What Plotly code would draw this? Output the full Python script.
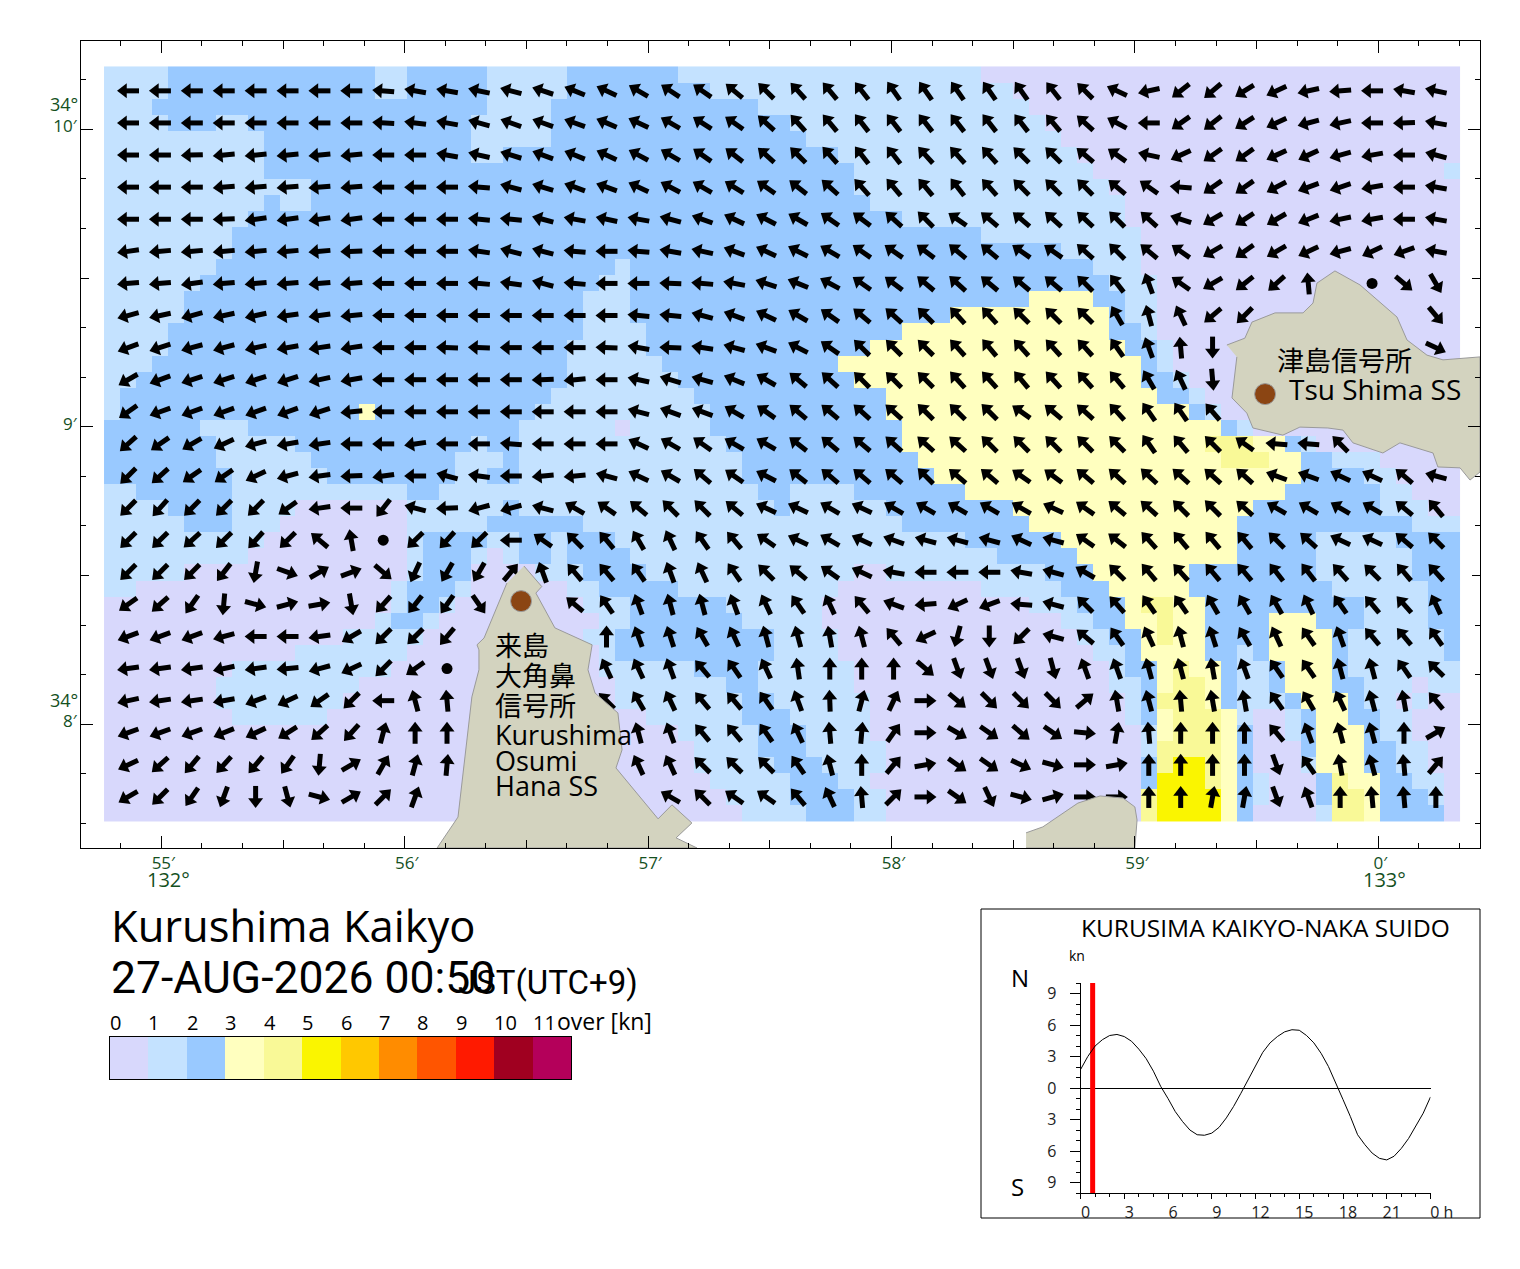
import plotly.graph_objects as go
import math

W, H = 1520, 1269
FONT = "Noto Sans CJK JP"
LATIN = "Open Sans"
GREEN = "#14501e"

# current speed class per grid cell, one string per row, "class>end column"
speed_rows = [
 "1>4 2>17 1>19 2>24 1>29 2>36 1>55 0>85",
 "1>4 2>17 1>19 2>24 1>29 2>38 1>57 0>85",
 "1>3 2>24 1>28 2>41 1>58 0>85",
 "1>4 2>7 1>9 2>23 1>28 2>43 1>59 0>85",
 "1>10 2>23 1>28 2>44 1>60 0>85",
 "1>10 2>23 1>25 2>46 1>61 0>85",
 "1>10 2>47 1>62 0>84 1>85",
 "1>13 2>47 1>63 0>85",
 "1>10 2>11 1>13 2>48 1>64 0>85",
 "1>9 2>50 1>64 0>85",
 "1>8 2>55 1>65 0>85",
 "1>8 2>60 1>65 0>85",
 "1>7 2>32 1>33 2>62 1>65 0>85",
 "1>6 2>31 1>33 2>63 1>66 0>85",
 "1>5 2>30 1>33 2>58 3>62 2>64 1>66 0>85",
 "1>5 2>30 1>33 2>53 3>63 2>64 1>66 0>85",
 "1>4 2>30 1>34 2>50 3>63 2>65 1>66 0>85",
 "1>4 2>29 1>34 2>48 3>64 2>66 1>67 0>85",
 "1>3 2>29 1>35 2>46 3>65 2>66 1>67 0>85",
 "1>2 2>29 1>36 2>47 3>65 2>67 1>68 0>85",
 "1>1 2>28 1>37 2>49 3>66 2>68 1>69 0>85",
 "1>1 2>16 3>17 2>27 1>38 2>49 3>68 2>69 1>70 0>85",
 "2>6 1>9 2>26 1>32 0>33 1>38 2>50 3>70 2>71 1>72 0>85",
 "2>7 1>12 2>23 1>24 2>26 1>39 2>50 3>69 4>72 3>74 2>75 1>76 0>85",
 "2>7 1>13 2>22 1>25 2>26 1>40 2>51 3>70 4>73 3>75 2>77 1>80 0>85",
 "2>8 1>14 2>22 1>24 2>26 1>40 2>52 3>75 2>79 1>81 0>85",
 "1>2 2>8 1>19 2>21 1>41 2>43 1>47 2>54 3>74 2>80 1>82 0>85",
 "1>4 2>8 1>12 0>19 1>25 2>26 1>42 2>43 1>49 2>57 3>72 2>80 1>83 0>85",
 "1>5 2>8 1>11 0>19 1>24 2>30 1>50 2>58 3>71 2>82 1>85",
 "1>10 0>19 1>20 2>24 1>26 2>28 1>29 2>32 1>54 2>60 3>71 2>76 1>81 2>85",
 "1>9 0>19 1>20 2>23 1>24 0>25 1>26 2>28 1>29 2>33 1>56 2>61 3>71 2>76 1>82 2>85",
 "1>5 0>19 1>20 2>23 0>27 1>30 2>34 1>47 0>49 1>59 2>62 3>68 2>76 1>82 2>85",
 "1>2 0>18 1>19 2>22 1>23 0>29 1>31 2>36 1>46 0>55 1>60 2>63 3>68 2>77 1>83 2>85",
 "0>18 1>19 2>21 1>22 0>30 1>33 2>39 1>45 0>58 1>61 2>64 3>65 4>67 3>69 2>79 1>83 2>85",
 "0>17 1>18 2>20 1>21 0>31 1>33 2>40 1>45 0>60 1>62 2>64 3>66 4>67 3>69 2>73 3>76 2>79 1>83 2>85",
 "0>15 1>20 0>30 1>32 2>42 1>46 0>61 1>63 2>65 3>66 4>67 3>69 2>73 3>77 2>78 1>84 2>85",
 "0>12 1>19 0>31 1>32 2>42 1>46 0>62 1>64 2>65 3>69 2>71 1>72 2>73 3>77 2>78 1>84 2>85",
 "0>8 1>18 0>31 1>37 2>41 1>47 0>63 1>64 2>66 3>67 4>68 3>70 2>71 1>73 2>74 3>77 2>78 1>85",
 "0>7 1>16 0>32 1>39 2>41 1>47 0>63 1>65 2>66 3>67 4>69 3>70 2>71 1>73 2>74 3>77 2>79 1>82 0>83 1>85",
 "0>7 1>15 0>32 1>40 2>42 1>48 0>64 1>65 2>66 4>69 3>70 2>71 1>74 2>75 3>78 2>79 1>81 0>82 1>83 0>85",
 "0>8 1>14 0>34 1>40 2>43 1>48 0>64 1>65 2>66 3>67 4>70 3>71 1>72 0>74 1>75 2>76 3>78 2>80 1>82 0>85",
 "0>36 1>41 2>44 1>48 0>65 1>66 3>67 4>70 3>71 2>72 0>74 1>75 2>76 3>79 2>80 1>82 0>85",
 "0>37 1>41 2>44 1>49 0>65 1>66 4>70 3>71 2>72 0>75 2>76 3>79 2>81 1>83 0>85",
 "0>37 1>42 2>45 1>49 0>65 2>66 4>67 5>69 4>70 3>71 2>72 0>75 1>76 3>79 2>81 1>83 0>85",
 "0>38 1>43 2>46 1>48 0>65 2>66 5>69 4>70 3>71 2>72 1>73 0>76 2>77 4>78 3>80 2>82 1>84 0>85",
 "0>39 1>43 2>47 1>49 0>65 4>66 5>70 3>71 2>72 1>73 0>76 2>77 4>79 3>80 2>83 1>84 0>85",
 "0>40 1>44 2>47 1>49 0>65 4>66 5>70 3>71 2>72 0>76 1>77 4>79 3>80 2>84 0>85",
]

# flow direction in degrees clockwise from north, C = calm (dot), N = no arrow
C, N = -1, None
arrow_dirs = [
 [270,270,270,270,270,270,270,270,275,280,280,282,285,288,292,295,300,303,305,310,315,318,320,322,325,325,325,325,325,322,315,295,258,232,230,238,245,258,265,270,280,282],
 [270,270,270,270,270,270,270,270,273,277,280,285,290,290,290,293,295,300,303,305,312,318,320,322,322,322,322,322,322,320,312,298,270,235,232,238,245,255,258,270,268,280],
 [270,270,268,265,265,265,265,265,270,270,280,283,287,290,292,295,298,300,305,308,312,315,318,322,322,318,318,318,315,315,310,305,282,245,235,235,245,245,255,260,270,285],
 [270,270,270,265,265,265,265,265,270,270,270,275,285,287,290,290,295,298,300,302,305,308,312,318,320,320,322,318,315,315,315,310,305,275,235,235,242,250,252,260,270,280],
 [270,270,270,268,262,262,262,262,270,270,270,275,275,285,280,282,280,285,290,295,297,300,305,307,312,315,305,310,310,312,313,315,312,288,240,237,240,248,258,260,270,280],
 [262,265,265,265,265,265,265,268,270,270,270,278,285,285,275,270,275,280,282,290,295,297,300,305,305,307,310,310,305,305,312,315,310,305,240,235,240,245,255,245,250,280],
 [265,265,262,265,265,265,265,265,270,270,270,275,278,285,275,270,270,272,275,280,288,292,298,305,307,310,312,310,310,310,315,322,340,305,240,232,228,355,N,C,130,150],
 [255,258,255,258,258,262,262,265,270,270,270,270,270,270,270,270,275,275,285,290,295,300,305,310,312,315,318,318,315,315,315,330,345,335,230,225,N,N,N,N,N,140],
 [250,252,255,255,258,260,262,262,270,270,272,272,270,270,270,272,280,272,278,285,290,297,305,315,315,315,318,320,318,318,318,325,340,355,180,N,N,N,N,N,N,115],
 [240,250,252,252,252,252,258,260,270,270,270,270,270,268,265,270,282,287,285,292,300,310,312,315,315,315,318,318,320,318,318,320,330,335,175,N,N,N,N,N,N,N],
 [235,250,250,250,250,250,252,265,270,270,270,270,270,270,270,270,285,290,290,300,305,310,310,312,312,315,315,315,305,310,312,318,325,325,320,N,N,N,N,N,N,N],
 [228,235,240,245,255,260,262,270,270,262,270,270,275,270,270,270,295,300,305,300,300,308,310,310,312,312,312,315,315,315,315,315,325,320,315,305,275,275,315,N,N,N],
 [225,228,235,235,245,255,262,268,262,270,285,278,270,265,265,285,295,300,310,305,297,308,310,310,310,315,310,310,305,307,310,312,313,312,312,312,290,290,295,295,310,285],
 [225,222,225,225,225,235,262,270,218,285,268,255,255,285,300,305,310,315,315,310,295,295,300,295,300,300,300,300,300,295,305,310,312,315,315,312,300,300,300,300,310,320],
 [225,225,228,225,222,225,310,350,C,225,222,225,270,305,315,320,330,335,325,320,305,295,300,295,290,285,285,285,295,285,305,308,318,320,320,320,315,312,295,295,310,315],
 [225,225,225,218,190,110,60,70,130,205,210,210,40,340,320,320,325,340,335,325,315,310,305,295,280,270,270,270,280,285,300,315,320,318,320,320,322,322,318,315,320,318],
 [235,228,215,185,105,75,80,170,222,218,215,145,N,N,310,325,340,345,345,340,335,325,335,320,290,265,245,250,275,285,315,318,325,325,330,330,330,335,325,320,318,335],
 [250,250,250,255,270,270,262,240,225,225,220,N,N,N,N,0,340,342,330,335,345,345,350,345,320,245,195,180,225,285,310,325,335,345,342,330,335,325,340,320,320,325],
 [262,262,262,258,262,265,255,245,225,235,C,N,N,N,N,335,335,340,320,325,335,352,0,0,0,130,160,160,160,165,340,340,345,345,350,340,325,325,345,345,325,315],
 [258,262,262,260,250,245,235,225,270,345,355,N,N,N,N,315,330,335,320,320,325,340,358,15,25,90,130,135,135,135,50,350,345,355,350,350,325,330,335,345,350,320],
 [250,250,250,248,245,238,228,222,15,0,0,N,N,N,N,N,345,340,320,320,325,335,355,5,35,90,120,125,130,125,95,10,355,0,0,0,320,340,345,345,0,60],
 [245,228,220,222,220,215,185,60,30,15,5,N,N,N,N,N,335,335,315,315,315,325,345,0,40,80,125,125,115,105,90,80,0,0,0,0,160,325,350,345,355,40],
 [240,225,215,200,180,165,105,60,45,20,N,N,N,N,N,N,N,300,315,305,305,320,335,355,45,90,125,155,105,75,90,90,0,0,10,10,160,340,0,355,355,0],
]

class_colors = ["#d8d8fc", "#c4e2ff", "#99c9ff", "#ffffbf", "#f9f997", "#faf500",
                "#ffc800", "#ff8c00", "#ff5500", "#ff1a00", "#a00020", "#b4005a"]
class_labels = ["0", "1", "2", "3", "4", "5", "6", "7", "8", "9", "10", "11"]

# coastlines, longitude minutes past 132 deg and latitude minutes past 34 deg
kurushima_lon = [56.490,56.563,56.539,56.609,56.617,56.770,56.753,56.782,56.876,56.893,56.868,57.041,57.098,57.180,57.115,57.201,56.133,56.219,56.276,56.305,56.305,56.297,56.326,56.420]
kurushima_lat = [8.532,8.463,8.441,8.334,8.324,8.267,8.183,8.105,8.038,7.914,7.853,7.682,7.729,7.668,7.618,7.584,7.584,7.688,8.092,8.183,8.250,8.267,8.290,8.475]
tsushima_lon = [59.378,59.452,59.481,59.576,59.691,59.732,59.748,59.822,59.925,60.077,60.118,60.200,60.266,60.418,60.418,60.377,60.336,60.245,60.225,60.089,60.019,59.896,59.855,59.793,59.678,59.608,59.485,59.460,59.399,59.419]
tsushima_lat = [9.275,9.298,9.352,9.383,9.383,9.416,9.483,9.524,9.477,9.369,9.292,9.241,9.225,9.235,8.848,8.821,8.862,8.865,8.912,8.946,8.912,8.946,8.989,8.996,8.999,8.972,8.996,9.046,9.097,9.235]
islet_lon = [58.553,58.622,58.766,58.857,58.951,59.000,59.009,59.000,58.553]
islet_lat = [7.635,7.655,7.735,7.759,7.752,7.722,7.678,7.584,7.584]
station_lon = [59.535, 56.478]
station_lat = [9.110, 8.414]

# tidal current at the reference point, hours and knots (north positive)
tide_hours = [0,0.5,1,1.5,2,2.5,3,3.5,4,4.5,5,5.5,6,6.5,7,7.5,8,8.5,9,9.5,10,10.5,11,11.5,12,12.5,13,13.5,14,14.5,15,15.5,16,16.5,17,17.5,18,18.5,19,19.5,20,20.5,21,21.5,22,22.5,23,23.5,24]
tide_knots = [1.75,3.0,4.0,4.6,5.0,5.1,4.9,4.45,3.7,2.8,1.6,0.15,-1.0,-2.25,-3.2,-4.0,-4.45,-4.5,-4.3,-3.75,-2.85,-1.75,-0.5,0.8,2.2,3.4,4.3,4.9,5.35,5.55,5.5,5.0,4.3,3.3,2.05,0.55,-1.1,-2.7,-4.45,-5.4,-6.2,-6.7,-6.85,-6.5,-5.75,-4.8,-3.65,-2.4,-0.85]
now_hour = 50 / 60

LAND = "#d3d3bf"
COAST = "#9a9a9a"

# map scale, pixels per minute of arc
PX_LON, PX_LAT = 243.4, 297.5
X_RANGE = [54.670, 60.418]
Y_RANGE = [7.584, 10.297]
CELL_X0, CELL_DX = 54.7974, 15.95 / PX_LON
CELL_Y0, CELL_DY = 10.1844, -16.06 / PX_LAT
ARROW_X0, ARROW_DX = 54.8632, 31.9 / PX_LON
ARROW_Y0, ARROW_DY = 10.1294, -32.1 / PX_LAT


def px(x):
    return x / W


def py(y):
    return 1 - y / H


def expand(row):
    cells, start = [], 0
    for run in row.split():
        value, end = run.split(">")
        cells += [int(value)] * (int(end) - start)
        start = int(end)
    return cells


def label(text, x, y, size, font=LATIN, color="black", anchor="left"):
    return dict(text=text, x=px(x), y=py(y), xref="paper", yref="paper", showarrow=False, xshift=-2.5, yshift=2,
                xanchor=anchor, yanchor="middle", font=dict(family=font, size=size, color=color))


fig = go.Figure()

# speed cells
n = len(class_colors)
scale = []
for i, c in enumerate(class_colors):
    scale += [[i / n, c], [(i + 1) / n, c]]
fig.add_trace(go.Heatmap(z=[expand(r) for r in speed_rows], x0=CELL_X0, dx=CELL_DX, y0=CELL_Y0, dy=CELL_DY,
                         zmin=0, zmax=n, colorscale=scale, showscale=False, hoverinfo="skip"))

# arrows: shaft as one broken line, head as a triangle marker
LEN = 22
HEAD = 13
shaft_x, shaft_y, head_x, head_y, head_a, dot_x, dot_y = [], [], [], [], [], [], []
for j, row in enumerate(arrow_dirs):
    for i, a in enumerate(row):
        if a is None:
            continue
        cx = ARROW_X0 + i * ARROW_DX
        cy = ARROW_Y0 + j * ARROW_DY
        if a == C:
            dot_x.append(cx)
            dot_y.append(cy)
            continue
        sx = math.sin(math.radians(a)) / PX_LON
        sy = math.cos(math.radians(a)) / PX_LAT
        shaft_x += [cx - sx * LEN / 2, cx + sx * (LEN / 2 - 9), None]
        shaft_y += [cy - sy * LEN / 2, cy + sy * (LEN / 2 - 9), None]
        head_x.append(cx + sx * (LEN / 2 - HEAD / 2))
        head_y.append(cy + sy * (LEN / 2 - HEAD / 2))
        head_a.append(a)

fig.add_trace(go.Scatter(x=shaft_x, y=shaft_y, mode="lines", line=dict(color="black", width=5), hoverinfo="skip"))
fig.add_trace(go.Scatter(x=head_x, y=head_y, mode="markers", hoverinfo="skip",
                         marker=dict(symbol="triangle-up", size=HEAD, angle=head_a, color="black", line=dict(width=0))))
fig.add_trace(go.Scatter(x=dot_x, y=dot_y, mode="markers", hoverinfo="skip",
                         marker=dict(symbol="circle", size=11, color="black", line=dict(width=0))))

# land goes over the arrows
for lon, lat in [(kurushima_lon, kurushima_lat), (tsushima_lon, tsushima_lat), (islet_lon, islet_lat)]:
    fig.add_trace(go.Scatter(x=lon, y=lat, mode="lines", fill="toself", fillcolor=LAND,
                             line=dict(color=COAST, width=1), hoverinfo="skip"))
fig.add_trace(go.Scatter(x=station_lon, y=station_lat, mode="markers", hoverinfo="skip",
                         marker=dict(size=21, color="#8b4513", line=dict(color=COAST, width=1))))

# empty trace so the 30 second tick axes get drawn
fig.add_trace(go.Scatter(x=[None], y=[None], xaxis="x2", yaxis="y2", mode="markers", hoverinfo="skip"))

# colour key
fig.add_trace(go.Heatmap(z=[list(range(n))], x0=0.5, dx=1, y0=0, xaxis="x3", yaxis="y3", zmin=0, zmax=n,
                         colorscale=scale, showscale=False, hoverinfo="skip"))

# tide curve
fig.add_trace(go.Scatter(x=[now_hour, now_hour], y=[-10, 10], xaxis="x4", yaxis="y4", mode="lines",
                         line=dict(color="#ff0000", width=5), hoverinfo="skip"))
fig.add_trace(go.Scatter(x=tide_hours, y=tide_knots, xaxis="x4", yaxis="y4", mode="lines",
                         line=dict(color="black", width=1), hoverinfo="skip"))

map_dom_x = [px(81), px(1480)]
map_dom_y = [py(848), py(41)]
tick_font = dict(family=LATIN, size=17, color=GREEN)
tide_font = dict(family=LATIN, size=16, color="#222222")

annos = [
    label("34°", 50, 106, 18, color=GREEN),
    label("34°", 50, 702, 18, color=GREEN),
    label("132°", 147, 881, 20, color=GREEN),
    label("133°", 1363, 881, 20, color=GREEN),
    label("津島信号所", 1277, 362, 27, font=FONT),
    label("Tsu Shima SS", 1289, 391, 28),
    label("来島", 495, 646, 27, font=FONT),
    label("大角鼻", 495, 676, 27, font=FONT),
    label("信号所", 495, 706, 27, font=FONT),
    label("Kurushima", 495, 737, 27),
    label("Osumi", 495, 762, 27),
    label("Hana SS", 495, 787, 27),
    label("Kurushima Kaikyo", 111, 928, 43.5),
    label("27-AUG-2026 00:50", 111, 980, 44.5, font="Roboto"),
    label("JST(UTC+9)", 458, 984, 33, font="Roboto"),
    label("over [kn]", 557, 1023, 23),
    label("KURUSIMA KAIKYO-NAKA SUIDO", 1081, 930, 24.5),
    label("kn", 1069, 957, 14),
    label("N", 1011, 979, 24),
    label("S", 1011, 1188, 24),
]
# key numbers start on the left edge of their colour
for k, t in enumerate(class_labels):
    annos.append(dict(text=t, x=k, y=py(1023), xref="x3", yref="paper", showarrow=False, xanchor="left", xshift=-2,
                      yshift=1, yanchor="middle", font=dict(family=LATIN, size=20, color="black")))

fig.update_layout(
    width=W, height=H, autosize=False, margin=dict(l=0, r=0, t=0, b=0), showlegend=False,
    paper_bgcolor="white", plot_bgcolor="white", annotations=annos,
    xaxis=dict(domain=map_dom_x, range=X_RANGE, tickvals=[55, 56, 57, 58, 59, 60],
               ticktext=["55′", "56′", "57′", "58′", "59′", "0′"], ticks="inside", ticklen=12, tickcolor="black",
               showline=True, linecolor="black", linewidth=1, mirror="ticks", showgrid=False, zeroline=False,
               tickfont=tick_font, ticklabelstandoff=0, ticklabelshift=2, anchor="y",
               minor=dict(dtick=1 / 6, tick0=0, ticks="inside", ticklen=5, tickcolor="black", showgrid=False)),
    yaxis=dict(domain=map_dom_y, range=Y_RANGE, tickvals=[8, 9, 10], ticktext=["8′", "9′", "10′"],
               ticks="inside", ticklen=12, tickcolor="black", showline=True, linecolor="black", linewidth=1,
               mirror="ticks", showgrid=False, zeroline=False, tickfont=tick_font, ticklabelstandoff=0,
               ticklabelshift=-3, anchor="x",
               minor=dict(dtick=1 / 6, tick0=0, ticks="inside", ticklen=5, tickcolor="black", showgrid=False)),
    xaxis2=dict(overlaying="x", range=X_RANGE, tick0=0.5, dtick=1, ticks="inside", ticklen=8, tickcolor="black",
                mirror="ticks", showticklabels=False, showgrid=False, zeroline=False, anchor="y2", side="bottom"),
    yaxis2=dict(overlaying="y", range=Y_RANGE, tick0=0.5, dtick=1, ticks="inside", ticklen=8, tickcolor="black",
                mirror="ticks", showticklabels=False, showgrid=False, zeroline=False, anchor="x2", side="left"),
    xaxis3=dict(domain=[px(110), px(571)], range=[0, n], showticklabels=False, ticks="", showline=True,
                linecolor="black", mirror=True, showgrid=False, zeroline=False, anchor="y3"),
    yaxis3=dict(domain=[py(1079), py(1037)], range=[-0.5, 0.5], showticklabels=False, ticks="", showline=True,
                linecolor="black", mirror=True, showgrid=False, zeroline=False, anchor="x3"),
    xaxis4=dict(domain=[px(1080.5), px(1430.5)], range=[0, 24], tickvals=[0, 3, 6, 9, 12, 15, 18, 21, 24],
                ticktext=["0", "3", "6", "9", "12", "15", "18", "21", "\u00a0\u00a0\u00a00\u00a0h"], ticks="outside",
                ticklen=5, tickcolor="black", showline=True, linecolor="black", showgrid=False, zeroline=False,
                tickfont=tide_font, ticklabelshift=5, anchor="y4",
                minor=dict(dtick=1, ticks="outside", ticklen=3, tickcolor="black", showgrid=False)),
    yaxis4=dict(domain=[py(1193), py(983)], range=[-10, 10], tickvals=[-9, -6, -3, 0, 3, 6, 9],
                ticktext=["9", "6", "3", "0", "3", "6", "9"], ticks="outside", ticklen=10, tickcolor="black",
                showline=True, linecolor="black", showgrid=False, zeroline=True, zerolinecolor="black",
                zerolinewidth=1, tickfont=tide_font, ticklabelstandoff=10, anchor="x4",
                minor=dict(dtick=1, ticks="outside", ticklen=4, tickcolor="black", showgrid=False)),
    shapes=[dict(type="rect", xref="paper", yref="paper", x0=px(981), x1=px(1480), y0=py(1218), y1=py(909),
                 line=dict(color="black", width=1), fillcolor="rgba(0,0,0,0)")],
)
# the default template grows the margins around tick labels, which would shift every domain
fig.update_xaxes(automargin=False)
fig.update_yaxes(automargin=False)

fig.write_html("out.html", post_script="document.body.style.margin='0';",
               config=dict(displayModeBar=False, responsive=False))
